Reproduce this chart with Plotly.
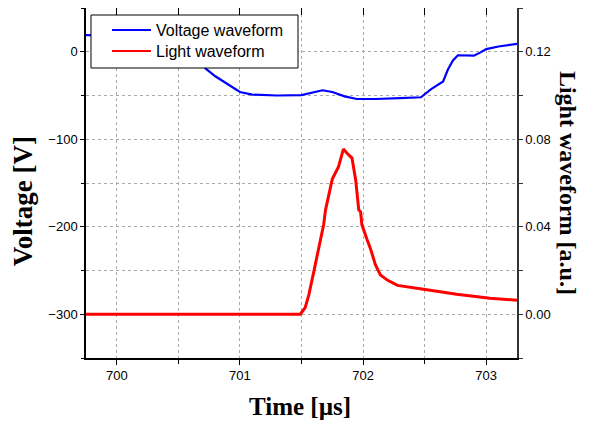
import plotly.graph_objects as go

# Voltage waveform (left axis, V)
volt_t = [699.75, 700.30, 700.50, 700.60, 700.68, 700.72, 700.80, 700.90, 701.00, 701.10,
          701.30, 701.50, 701.60, 701.67, 701.75, 701.85, 701.95, 702.10, 702.30, 702.47,
          702.55, 702.65, 702.69, 702.73, 702.77, 702.85, 702.90, 702.95, 703.00, 703.10, 703.25]
volt_v = [19, 18, 12, 2, -12, -19, -28, -37, -46, -49,
          -50, -49.5, -46, -44, -46, -51, -54, -54, -53, -52,
          -43, -34, -20, -10, -4, -4.5, -4.5, -1, 3, 6, 9]

# Light waveform (right axis, a.u.)
light_t = [699.75, 700.20, 700.70, 701.20, 701.49, 701.53, 701.56, 701.60, 701.64, 701.68,
           701.695, 701.75, 701.80, 701.84, 701.87, 701.91, 701.94, 701.965, 701.98, 701.99,
           702.03, 702.06, 702.10, 702.14, 702.20, 702.28, 702.49, 702.76, 703.03, 703.25]
light_v = [0.0, 0.0, 0.0, 0.0, 0.0, 0.003, 0.009, 0.0195, 0.031, 0.041,
           0.0477, 0.0618, 0.0673, 0.0755, 0.0736, 0.0714, 0.0614, 0.0477, 0.0468, 0.041,
           0.0345, 0.030, 0.0227, 0.018, 0.0155, 0.0132, 0.0114, 0.0091, 0.0073, 0.0064]

series_names = ["Voltage waveform", "Light waveform"]
series_colors = ["#0000ff", "#ff0000"]

x_ticks = [700, 701, 702, 703]
y_ticks = [0, -100, -200, -300]
y2_ticks = [0.00, 0.04, 0.08, 0.12]
y2_labels = ["0.00", "0.04", "0.08", "0.12"]

tick_font = dict(family="Liberation Sans, Arial", size=13, color="black")
serif = "Liberation Serif, Times New Roman"

fig = go.Figure()
fig.add_trace(go.Scatter(x=volt_t, y=volt_v, mode="lines", name=series_names[0],
                         line=dict(color=series_colors[0], width=2.2), yaxis="y"))
fig.add_trace(go.Scatter(x=light_t, y=light_v, mode="lines", name=series_names[1],
                         line=dict(color=series_colors[1], width=3), yaxis="y2"))
# invisible trace to activate top axis
fig.add_trace(go.Scatter(x=[700], y=[0], xaxis="x2", yaxis="y", mode="markers",
                         marker=dict(opacity=0), showlegend=False, hoverinfo="skip"))

grid = dict(showgrid=True, gridcolor="#a8a8a8", griddash="dot", gridwidth=1)

# Legend box drawn in paper coordinates
leg_x0, leg_x1, leg_y0, leg_y1 = 0.0116, 0.4919, 0.8286, 0.98
line_x0, line_x1, text_x = 0.0603, 0.1508, 0.1578
row_y = [0.9371, 0.8771]

shapes = [dict(type="rect", xref="paper", yref="paper", x0=leg_x0, x1=leg_x1, y0=leg_y0, y1=leg_y1,
               fillcolor="white", line=dict(color="black", width=1), layer="above")]
annotations = []
for name, col, yy in zip(series_names, series_colors, row_y):
    shapes.append(dict(type="line", xref="paper", yref="paper", x0=line_x0, x1=line_x1, y0=yy, y1=yy,
                       line=dict(color=col, width=2), layer="above"))
    annotations.append(dict(text=name, xref="paper", yref="paper", x=text_x, y=yy,
                            xanchor="left", yanchor="middle", showarrow=False,
                            font=dict(family="Liberation Sans, Arial", size=16, color="black")))

annotations += [
    dict(text="<b>Time [µs]</b>", xref="paper", yref="paper", x=0.4965, y=-0.1396,
         xanchor="center", yanchor="middle", showarrow=False,
         font=dict(family=serif, size=25, color="black")),
    dict(text="<b>Voltage [V]</b>", xref="paper", yref="paper", x=-0.147, y=0.447,
         xanchor="center", yanchor="middle", showarrow=False,
         font=dict(family=serif, size=27, color="black"), textangle=-90),
    dict(text="<b>Light waveform [a.u.]</b>", xref="paper", yref="paper", x=1.12, y=0.501,
         xanchor="center", yanchor="middle", showarrow=False,
         font=dict(family=serif, size=24, color="black"), textangle=90),
]

fig.update_layout(
    width=581, height=416,
    margin=dict(l=78, r=72, t=0, b=66),
    plot_bgcolor="white", paper_bgcolor="white",
    showlegend=False,
    xaxis=dict(range=[699.75, 703.25], tickvals=x_ticks, ticks="outside", ticklen=5,
               tickcolor="black", showline=True, linecolor="black", linewidth=1.5,
               tickfont=tick_font, zeroline=False,
               minor=dict(dtick=0.5, tick0=700, ticks="outside", ticklen=4, tickcolor="black",
                          showgrid=True, gridcolor="#a8a8a8", griddash="dot"),
               **grid),
    xaxis2=dict(overlaying="x", matches="x", side="top", showticklabels=False,
                tickvals=x_ticks, ticks="inside", ticklen=7, tickcolor="black",
                showline=True, linecolor="black", linewidth=1.5, showgrid=False, zeroline=False,
                minor=dict(dtick=0.5, tick0=700, ticks="inside", ticklen=7, tickcolor="black",
                           showgrid=False)),
    yaxis=dict(range=[-350, 50], tickvals=y_ticks, ticks="outside", ticklen=4,
               tickcolor="black", showline=True, linecolor="black", linewidth=1.5,
               tickfont=tick_font, zeroline=False,
               minor=dict(dtick=50, tick0=0, ticks="outside", ticklen=3, tickcolor="black",
                          showgrid=True, gridcolor="#a8a8a8", griddash="dot"),
               **grid),
    yaxis2=dict(range=[-0.02, 0.14], overlaying="y", side="right", tickvals=y2_ticks,
                ticktext=y2_labels, ticks="outside", ticklen=4, tickcolor="#333333",
                showline=True, linecolor="#333333", linewidth=1.5, tickfont=tick_font,
                showgrid=False, zeroline=False,
                minor=dict(dtick=0.02, tick0=0, ticks="outside", ticklen=4, tickcolor="#333333",
                           showgrid=False)),
    shapes=shapes,
    annotations=annotations,
)

fig.write_html("out.html")
